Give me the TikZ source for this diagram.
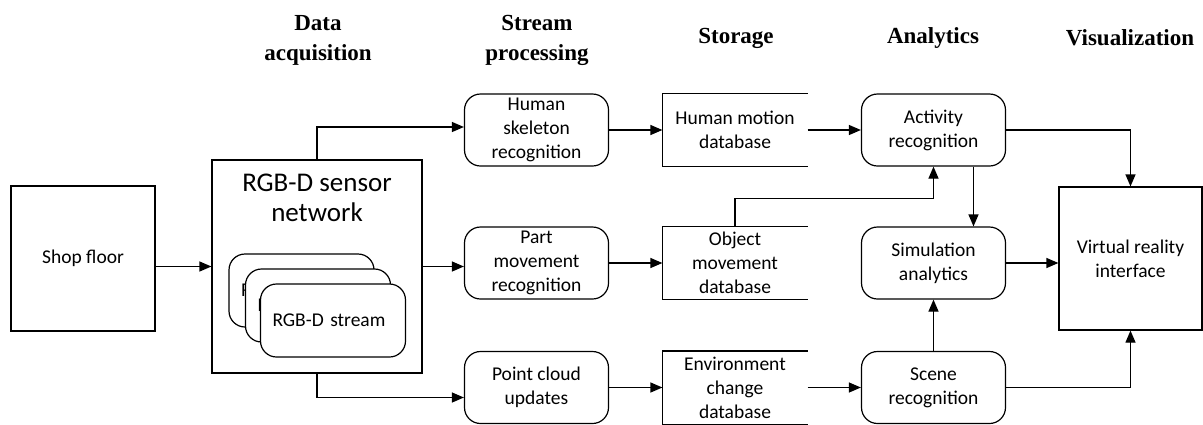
\documentclass[tikz,border=0pt]{standalone}
\usepackage{fontspec}
\setmainfont{Liberation Serif}
\newfontfamily\bodyfont{Carlito}
\usetikzlibrary{arrows.meta}
\begin{document}
\begin{tikzpicture}[x=1pt,y=-1pt, line width=1.2pt,
  hdr/.style={font=\fontsize{23}{30}\selectfont\bfseries, align=center},
  txt/.style={font=\bodyfont\fontsize{19.5}{24}\selectfont, align=center, inner sep=2pt},
  box/.style={txt, draw, minimum width=144pt, minimum height=72pt},
  rbox/.style={box, rounded corners=16pt},
  stbox/.style={txt, minimum width=144pt, minimum height=72pt},
  streambox/.style={rbox, fill=white, minimum width=145pt, minimum height=73pt, text width=121pt, align=left},
  arr/.style={-{Triangle[length=12pt,width=10pt]}}
]
\useasboundingbox (0,0) rectangle (1203,424);

% headers
\node[hdr] (h1) at (318,40) {Data\\acquisition};
\node[hdr] (h2) at (537,40) {Stream\\processing};
\node[hdr] (h3) at (736,38) {Storage};
\node[hdr] (h4) at (933,38) {Analytics};
\node[hdr] (h5) at (1130,38) {Visualization};

% data acquisition
\node[box, minimum height=145pt] (shop) at (83,258.5) {Shop floor};
\node[draw, minimum width=210pt, minimum height=213pt] (sensor) at (317,266.5) {};
\node[txt, font=\bodyfont\fontsize{27}{30}\selectfont] (senslabel) at (317,198) {RGB-D sensor\\network};
\node[streambox] (s1) at (301.5,290.5) {RGB-D stream};
\node[streambox] (s2) at (318,305.5) {RGB-D stream};
\node[streambox] (s3) at (333,320.5) {RGB-D stream};

% stream processing
\node[rbox] (sk) at (536.5,130) {Human\\skeleton\\recognition};
\node[rbox] (part) at (536.5,263) {Part\\movement\\recognition};
\node[rbox] (pc) at (536.5,387.5) {Point cloud\\updates};

% storage
\node[stbox] (hm) at (735,130) {Human motion\\database};
\node[stbox] (obj) at (735,263) {Object\\movement\\database};
\node[stbox] (env) at (735,387.5) {Environment\\change\\database};
\foreach \n in {hm,obj,env}
  \draw (\n.north east) -- (\n.north west) -- (\n.south west) -- (\n.south east);

% analytics
\node[rbox] (act) at (933.5,130) {Activity\\recognition};
\node[rbox] (sim) at (933.5,263) {Simulation\\analytics};
\node[rbox] (scene) at (933.5,387.5) {Scene\\recognition};

% visualization
\node[box, minimum width=143pt, minimum height=143pt] (vr) at (1130.5,258.5) {Virtual reality\\interface};

% connectors
\draw[arr] (shop.east |- sensor.west) -- (sensor.west);
\draw[arr] (sensor.north) |- ([yshift=3pt]sk.west);
\draw[arr] (sensor.east) -- (sensor.east -| part.west);
\draw[arr] (sensor.south) |- ([yshift=-10pt]pc.west);

\draw[arr] (sk.east) -- (hm.west);
\draw[arr] (part.east) -- (obj.west);
\draw[arr] (pc.east) -- (env.west);

\draw[arr] (hm.east) -- (act.west);
\draw[arr] (obj.north) -- ++(0,-28) -| (act.south);
\draw[arr] (env.east) -- (scene.west);

\draw[arr] ([xshift=40pt]act.south) -- ([xshift=40pt]sim.north);
\draw[arr] (scene.north) -- (sim.south);

\draw[arr] (act.east) -| (vr.north);
\draw[arr] (sim.east) -- (sim.east -| vr.west);
\draw[arr] (scene.east) -| (vr.south);
\end{tikzpicture}
\end{document}
